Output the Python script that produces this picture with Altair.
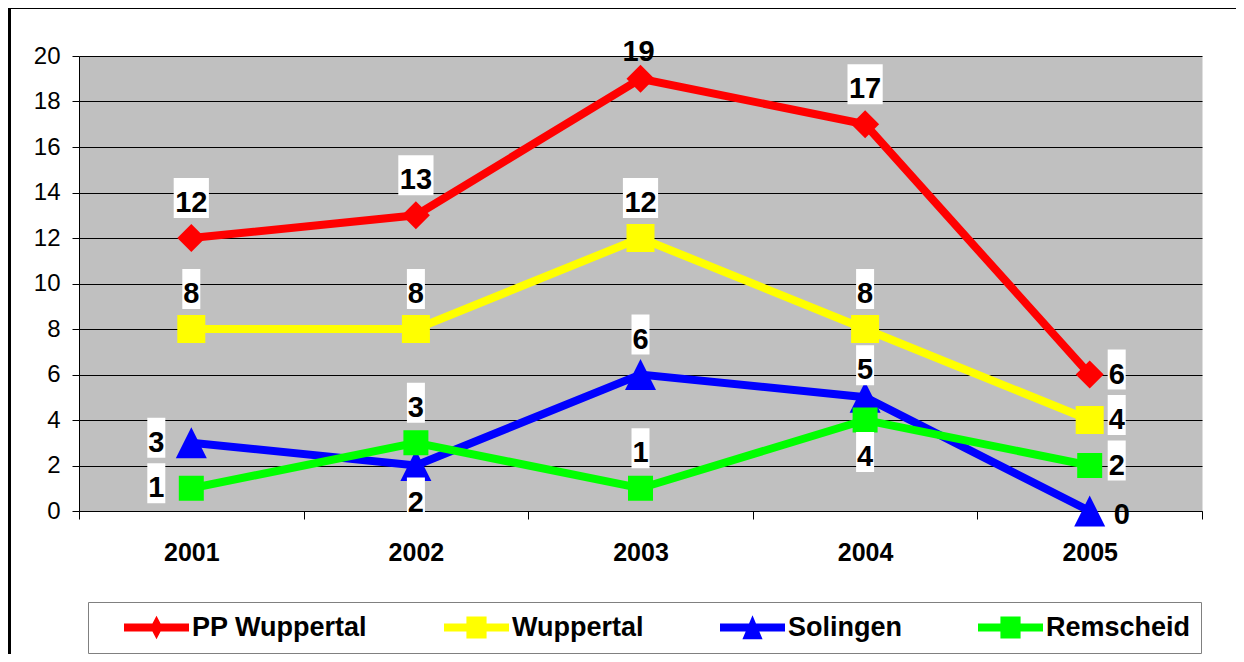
import altair as alt
import pandas as pd

# ---------------- data ----------------
YEARS = ["2001", "2002", "2003", "2004", "2005"]
SERIES = ["PP Wuppertal", "Wuppertal", "Solingen", "Remscheid"]

PP_WUPPERTAL = [12, 13, 19, 17, 6]
WUPPERTAL = [8, 8, 12, 8, 4]
SOLINGEN = [3, 2, 6, 5, 0]
REMSCHEID = [1, 3, 1, 4, 2]

# side of each data label relative to its point
PP_WUPPERTAL_SIDE = ["above", "above", "top", "above", "right"]
WUPPERTAL_SIDE = ["above", "above", "above", "above", "right"]
SOLINGEN_SIDE = ["left", "below", "above", "near", "corner"]
REMSCHEID_SIDE = ["left", "above", "above", "below", "right"]

Y_TICKS = [0, 2, 4, 6, 8, 10, 12, 14, 16, 18, 20]

# ---------------- style ----------------
FONT = "Liberation Sans"
COLORS = ["#FF0000", "#FFFF00", "#0000FF", "#00FF00"]
TRI = "M0,-1L1,1L-1,1Z"
DIA = "M0,-1L1,0L0,1L-1,0Z"
MARKERS = [DIA, "square", TRI, "square"]
MARKER_SIZES = [784, 784, 961, 625]

LINE = "M-1,-0.12H1V0.12H-1Z"
LEGEND_SYMBOLS = [
    LINE + "M0,-0.36L0.19,0L0,0.36L-0.19,0Z",
    LINE + "M-0.31,-0.34H0.31V0.34H-0.31Z",
    LINE + "M0,-0.38L0.31,0.36H-0.31Z",
    LINE + "M-0.31,-0.34H0.31V0.34H-0.31Z",
]

# label offsets (dx, dy) in pixels per side; sides in NO_BOX get no white box
OFFSETS = {
    "above": (0, -35),
    "top": (-2, -27),
    "near": (0, -27),
    "below": (0, 37),
    "left": (-35, 0),
    "right": (27, 0),
    "corner": (32, 4),
}
NO_BOX = ["top", "corner"]
BOX_1 = "M-0.45,-1H0.45V1H-0.45Z"
BOX_2 = "M-0.88,-1H0.88V1H-0.88Z"

W, H = 1123, 455

rows = []
for s, vals, sides in zip(
    SERIES,
    [PP_WUPPERTAL, WUPPERTAL, SOLINGEN, REMSCHEID],
    [PP_WUPPERTAL_SIDE, WUPPERTAL_SIDE, SOLINGEN_SIDE, REMSCHEID_SIDE],
):
    for yr, v, sd in zip(YEARS, vals, sides):
        rows.append({"Serie": s, "Jahr": yr, "Wert": v, "Seite": sd})
df = pd.DataFrame(rows)

x_enc = alt.X(
    "Jahr:N",
    scale=alt.Scale(type="band", domain=YEARS, paddingInner=0, paddingOuter=0),
    axis=alt.Axis(
        title=None, labelFont=FONT, labelFontSize=25, labelFontWeight="bold",
        labelColor="black", labelPadding=21, labelAngle=0, tickBand="extent",
        tickSize=8, tickColor="black", tickWidth=1, domainColor="black",
        domainWidth=1, grid=False,
    ),
)
y_enc = alt.Y(
    "Wert:Q",
    scale=alt.Scale(domain=[0, 20], nice=False, zero=True),
    axis=alt.Axis(
        title=None, values=Y_TICKS, labelFont=FONT, labelFontSize=24,
        labelColor="black", labelPadding=12, tickSize=7, tickColor="black",
        tickWidth=1, domainColor="black", domainWidth=1, grid=True,
        gridColor="black", gridWidth=1, gridOpacity=1,
    ),
)

base = alt.Chart(df).encode(x=x_enc, y=y_enc)

layers = []

# outer frame (right and bottom edges fall outside the picture)
frame = alt.Chart(alt.Data(values=[{"f": 1}])).mark_rect(
    filled=False, stroke="black", strokeWidth=3, fill="transparent"
).encode(
    x=alt.value(-69.5), x2=alt.value(W + 200),
    y=alt.value(-48.5), y2=alt.value(H + 250),
)
layers.append(frame)

for s, col, mk, sz in zip(SERIES, COLORS, MARKERS, MARKER_SIZES):
    sub = base.transform_filter(alt.datum.Serie == s)
    layers.append(sub.mark_line(color=col, strokeWidth=8))
    layers.append(
        sub.mark_point(shape=mk, size=sz, filled=True, color=col, opacity=1, strokeWidth=0)
    )

legend = alt.Legend(
    orient="none", legendX=9, legendY=546, direction="horizontal", columns=4,
    title="\u00a0", titleOrient="left", titleFontSize=10, titlePadding=26,
    labelFont=FONT, labelFontSize=27, labelFontWeight="bold", labelColor="black",
    labelOffset=3, labelLimit=400, columnPadding=76, padding=10, clipHeight=31,
    strokeColor="#808080", fillColor="white",
    symbolSize=4225, symbolStrokeWidth=0, symbolOpacity=1,
)
layers.append(
    base.mark_point(filled=True, opacity=0).encode(
        color=alt.Color("Serie:N", scale=alt.Scale(domain=SERIES, range=COLORS), legend=legend),
        shape=alt.Shape("Serie:N", scale=alt.Scale(domain=SERIES, range=LEGEND_SYMBOLS), legend=legend),
    )
)

# white label boxes
for side, (dx, dy) in OFFSETS.items():
    if side in NO_BOX:
        continue
    for path, cond in [(BOX_1, "datum.Wert < 10"), (BOX_2, "datum.Wert >= 10")]:
        layers.append(
            base.transform_filter(f"datum.Seite == '{side}' && {cond}").mark_point(
                shape=path, size=1600, filled=True, color="white", opacity=1,
                strokeWidth=0, xOffset=dx, yOffset=dy - 5,
            )
        )

# label texts
for side, (dx, dy) in OFFSETS.items():
    layers.append(
        base.transform_filter(f"datum.Seite == '{side}'").mark_text(
            font=FONT, fontSize=29, fontWeight="bold", color="black",
            align="center", baseline="middle", dx=dx, dy=dy,
        ).encode(text=alt.Text("Wert:Q"))
    )

chart = alt.layer(*layers).properties(
    width=W, height=H,
    autosize=alt.AutoSizeParams(type="none"),
    padding={"left": 71, "top": 48, "right": 34, "bottom": 143},
    background="white",
).configure_view(fill="#C0C0C0", stroke="transparent")

chart.save("out.html", embed_options={"renderer": "svg", "actions": False})
